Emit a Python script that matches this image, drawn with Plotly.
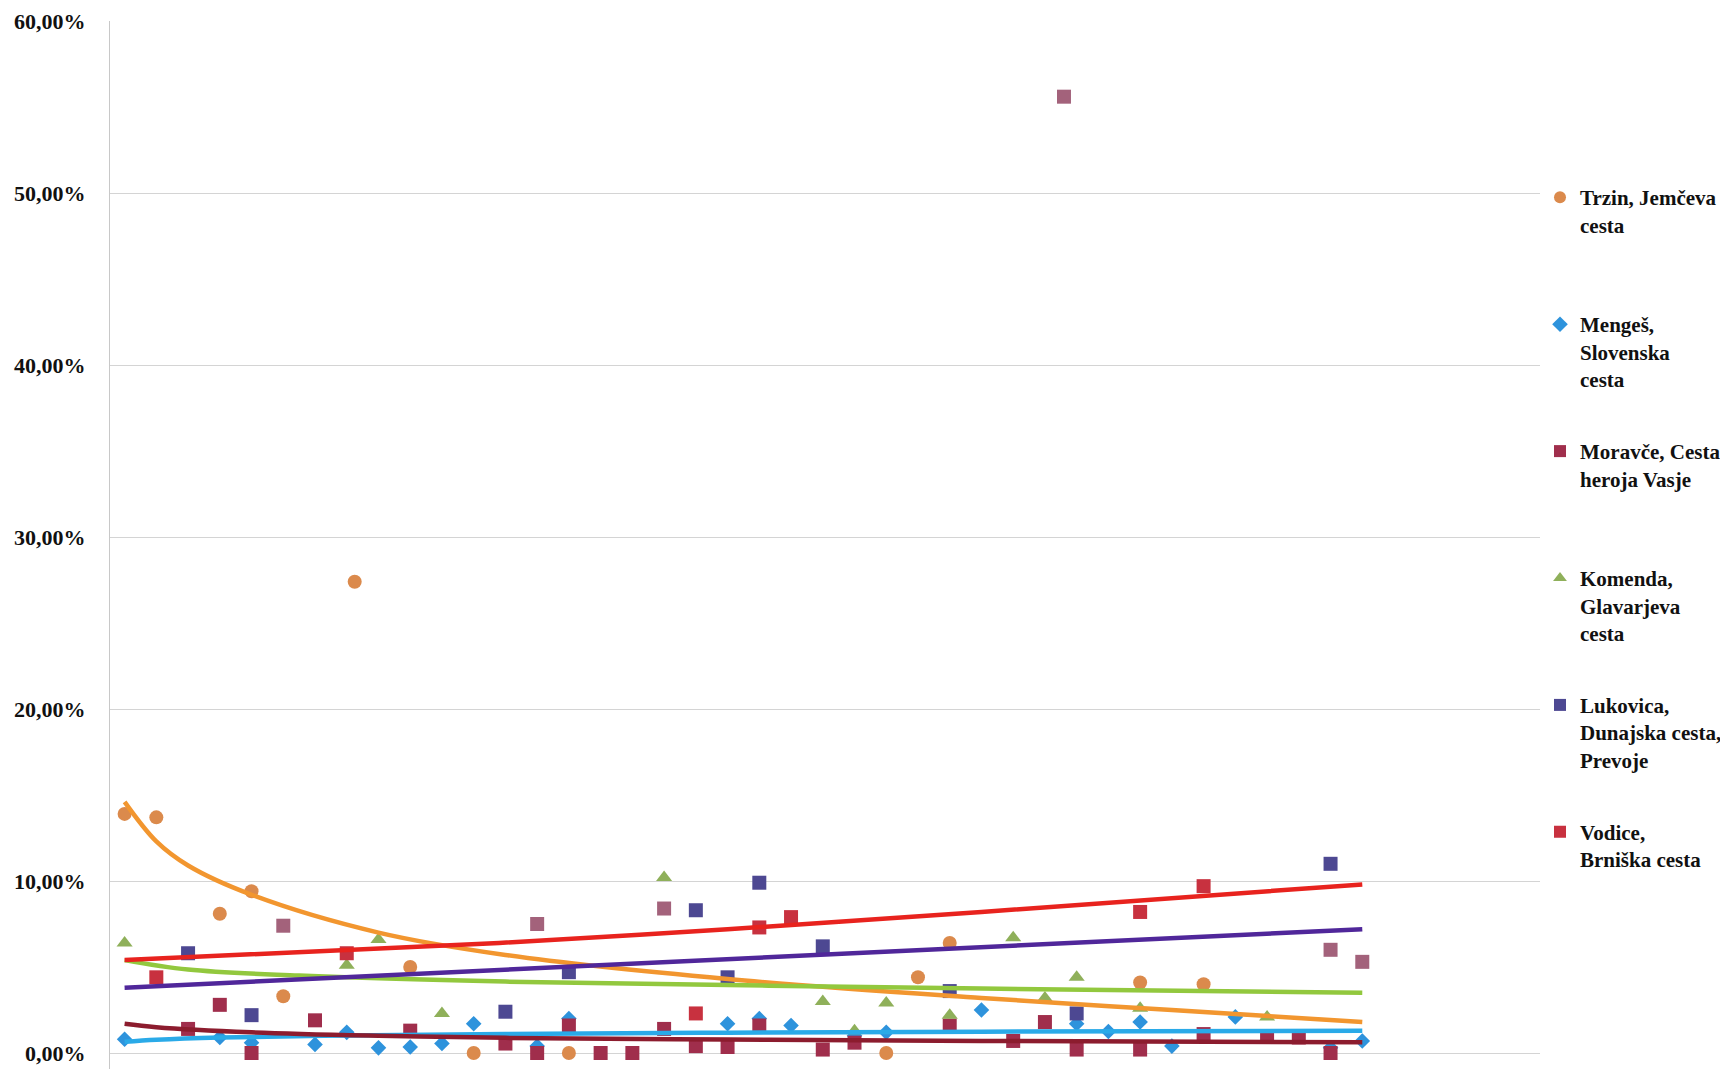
import plotly.graph_objects as go

# ---------------- data (values in %) ----------------
names = ["Trzin, Jemčeva<br>cesta<br> ",
         "Mengeš,<br>Slovenska<br>cesta",
         "Moravče, Cesta<br>heroja Vasje<br> ",
         "Komenda,<br>Glavarjeva<br>cesta",
         "Lukovica,<br>Dunajska cesta,<br>Prevoje",
         "Vodice,<br>Brniška cesta<br> "]

x_trzin = [1, 2, 4, 5, 6, 8.25, 10, 12, 15, 25, 26, 27, 33, 35]
y_trzin = [13.9, 13.7, 8.1, 9.4, 3.3, 27.4, 5.0, 0.0, 0.0, 0.0, 4.4, 6.4, 4.1, 4.0]

x_menges = [1, 4, 5, 7, 8, 9, 10, 11, 12, 14, 15, 20, 21, 22, 24, 25, 28, 31, 32, 33, 34, 36, 39, 40]
y_menges = [0.8, 0.9, 0.6, 0.5, 1.2, 0.3, 0.35, 0.55, 1.7, 0.4, 2.0, 1.7, 2.0, 1.6, 1.0, 1.2, 2.5, 1.7, 1.25, 1.8, 0.4, 2.1, 0.3, 0.7]

x_moravce = [3, 4, 5, 7, 10, 13, 14, 15, 16, 17, 18, 19, 20, 21, 23, 24, 27, 29, 30, 31, 33, 35, 37, 38, 39]
y_moravce = [1.4, 2.8, 0.0, 1.9, 1.3, 0.55, 0.0, 1.6, 0.0, 0.0, 1.4, 0.4, 0.35, 1.6, 0.2, 0.6, 1.6, 0.7, 1.8, 0.2, 0.2, 1.1, 0.95, 0.9, 0.0]

x_komenda = [1, 8, 9, 11, 18, 23, 24, 25, 27, 29, 30, 31, 33, 37]
y_komenda = [6.4, 5.1, 6.6, 2.3, 10.2, 3.0, 1.3, 2.9, 2.2, 6.7, 3.2, 4.4, 2.6, 2.1]

x_lukovica = [3, 5, 13, 15, 19, 20, 21, 23, 27, 31, 39]
y_lukovica = [5.8, 2.2, 2.4, 4.7, 8.3, 4.4, 9.9, 6.2, 3.6, 2.3, 11.0]

x_vodice = [2, 8, 19, 21, 22, 33, 35]
y_vodice = [4.4, 5.8, 2.3, 7.3, 7.9, 8.2, 9.7]

x_other = [6, 14, 18, 30.6, 39, 40]
y_other = [7.4, 7.5, 8.4, 55.6, 6.0, 5.3]

# trendlines
tx_trzin = [1, 2, 3, 5, 9, 13, 20, 28, 34, 40]
ty_trzin = [14.6, 12.3, 10.9, 9.2, 7.0, 5.7, 4.3, 3.2, 2.5, 1.8]
tx_menges = [1, 2, 4, 8, 13, 20, 28, 40]
ty_menges = [0.65, 0.77, 0.9, 1.02, 1.1, 1.18, 1.24, 1.3]
tx_moravce = [1, 2, 5, 9, 13, 20, 28, 40]
ty_moravce = [1.7, 1.5, 1.2, 1.0, 0.88, 0.78, 0.7, 0.63]
tx_komenda = [1, 3, 6.5, 13, 20, 28, 40]
ty_komenda = [5.4, 4.85, 4.5, 4.15, 3.95, 3.75, 3.5]
tx_lukovica = [1, 40]
ty_lukovica = [3.8, 7.2]
tx_vodice = [1, 12.8, 20, 28, 40]
ty_vodice = [5.4, 6.4, 7.2, 8.2, 9.8]

y_ticks = [0, 10, 20, 30, 40, 50, 60]

# ---------------- styling ----------------
marker_colors = ["#DB8A4C", "#2E93DC", "#A02E4C", "#8FB05A", "#4D4892", "#C8313F"]
line_colors = ["#F2962F", "#2AAAE8", "#8C1C2E", "#92C83E", "#50279A", "#E8231E"]
symbols = ["circle", "diamond", "square", "triangle-up", "square", "square"]
sizes = [14, 12, 14, 14, 14, 14]
other_color = "#A3627B"

pct = lambda v: [a / 100 for a in v]

series = [(x_trzin, y_trzin), (x_menges, y_menges), (x_moravce, y_moravce),
          (x_komenda, y_komenda), (x_lukovica, y_lukovica), (x_vodice, y_vodice)]
trends = [(tx_trzin, ty_trzin), (tx_menges, ty_menges), (tx_moravce, ty_moravce),
          (tx_komenda, ty_komenda), (tx_lukovica, ty_lukovica), (tx_vodice, ty_vodice)]

fig = go.Figure()

for i, (xs, ys) in enumerate(series):
    fig.add_trace(go.Scatter(
        x=xs, y=pct(ys), mode="markers", name=names[i], legendgroup=f"g{i}",
        marker=dict(symbol=symbols[i], size=sizes[i], color=marker_colors[i],
                    line=dict(width=0)),
        cliponaxis=False))

fig.add_trace(go.Scatter(
    x=x_other, y=pct(y_other), mode="markers", showlegend=False,
    marker=dict(symbol="square", size=14, color=other_color, line=dict(width=0))))

for i, (xs, ys) in enumerate(trends):
    fig.add_trace(go.Scatter(
        x=xs, y=pct(ys), mode="lines", showlegend=False,
        line=dict(color=line_colors[i], width=4.5, shape="spline", smoothing=1.0)))

tick_font = dict(family="Liberation Serif", size=22, color="#111111", weight="bold")

# the page body adds an 8 px margin, so the figure is sized / offset to compensate
fig.update_layout(
    width=1720, height=1061,
    margin=dict(l=102, r=188, t=13, b=0, autoexpand=False),
    paper_bgcolor="white", plot_bgcolor="white",
    separators=",.",
    showlegend=True,
    legend=dict(
        x=1.0, xanchor="left", y=0.851, yanchor="top",
        font=dict(family="Liberation Serif", size=21, color="#111111", weight="bold"),
        valign="top", tracegroupgap=42, itemsizing="constant",
        bgcolor="rgba(0,0,0,0)"),
    xaxis=dict(range=[0.54, 45.6], showgrid=False, zeroline=False, automargin=False,
               showticklabels=False, showline=False, ticks=""),
    yaxis=dict(range=[-0.0093, 0.60], tickvals=pct(y_ticks), tickformat=".2%",
               tickfont=tick_font, showgrid=True, gridcolor="#d4d4d4", gridwidth=1,
               zeroline=True, zerolinecolor="#d4d4d4", zerolinewidth=1,
               showline=True, linecolor="#c8c8c8", linewidth=1, automargin=False,
               ticks="", ticklabelstandoff=19),
)

fig.write_html("out.html")
